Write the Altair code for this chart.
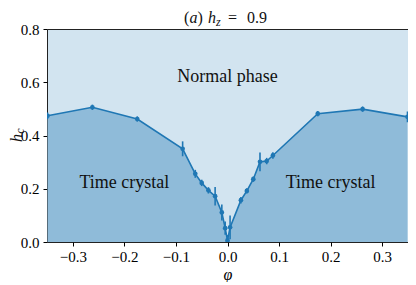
import altair as alt
import pandas as pd

phi = [-0.349, -0.262, -0.175, -0.087, -0.0625, -0.050, -0.037, -0.024, -0.011, -0.0045,
       0.0, 0.005, 0.026, 0.0375, 0.050, 0.063, 0.076, 0.088, 0.175, 0.262, 0.349]
hc = [0.474, 0.506, 0.462, 0.350, 0.256, 0.222, 0.194, 0.172, 0.111, 0.052,
      0.006, 0.055, 0.157, 0.192, 0.236, 0.301, 0.304, 0.325, 0.482, 0.499, 0.470]
err = [0.012, 0.010, 0.010, 0.028, 0.015, 0.012, 0.012, 0.035, 0.030, 0.025,
       0.020, 0.045, 0.012, 0.010, 0.010, 0.035, 0.012, 0.012, 0.010, 0.010, 0.020]

x_ticks = [-0.3, -0.2, -0.1, 0.0, 0.1, 0.2, 0.3]
y_ticks = [0.0, 0.2, 0.4, 0.6, 0.8]

labels = ["Normal phase", "Time crystal", "Time crystal"]
label_x = [0.0, -0.2, 0.2]
label_y = [0.62, 0.221, 0.221]

df = pd.DataFrame({"phi": phi, "hc": hc, "err": err})
df["lo"] = (df["hc"] - df["err"]).clip(lower=0)
df["hi"] = df["hc"] + df["err"]
lab = pd.DataFrame({"t": labels, "x": label_x, "y": label_y})

FONT = "'Liberation Serif', 'DejaVu Serif', serif"
C0 = "#1f77b4"
W, H = 361, 213
ox, oy = 47, 29  # page position of the plot origin

xs = alt.Scale(domain=[-0.35, 0.35], nice=False, zero=False)
ys = alt.Scale(domain=[0, 0.8], nice=False)

xaxis = alt.Axis(values=x_ticks, format=".1f", title="φ", titleFont=FONT,
                 titleFontStyle="italic", titleFontWeight="normal", titleFontSize=16,
                 titleColor="black", titlePadding=2, labelFont=FONT, labelFontSize=15,
                 labelColor="black", tickColor="black", tickSize=4, labelPadding=3,
                 domain=False, grid=False)
yaxis = alt.Axis(values=y_ticks, format=".1f", title=None, labelFont=FONT,
                 labelFontSize=15, labelColor="black", tickColor="black", tickSize=4,
                 labelPadding=4, domain=False, grid=False)

base = alt.Chart(df)

area = base.mark_area(color="#8fbbd9", opacity=1, clip=True).encode(
    x=alt.X("phi:Q", scale=xs, axis=xaxis),
    y=alt.Y("hc:Q", scale=ys, axis=yaxis),
    y2=alt.datum(0),
)
line = base.mark_line(color=C0, strokeWidth=1.6, clip=True).encode(
    x=alt.X("phi:Q", scale=xs), y=alt.Y("hc:Q", scale=ys))
bars = base.mark_rule(color=C0, strokeWidth=1.6, clip=True).encode(
    x=alt.X("phi:Q", scale=xs), y=alt.Y("lo:Q", scale=ys), y2="hi:Q")
pts = base.mark_circle(color=C0, size=22, opacity=1, clip=True).encode(
    x=alt.X("phi:Q", scale=xs), y=alt.Y("hc:Q", scale=ys))

texts = alt.Chart(lab).mark_text(font=FONT, fontSize=18, color="#111").encode(
    x=alt.X("x:Q", scale=xs), y=alt.Y("y:Q", scale=ys), text="t:N")

def txt(s, x, y, size=16, style="normal", angle=0, baseline="alphabetic", align="left"):
    return alt.Chart(pd.DataFrame({"s": [s]})).mark_text(
        font=FONT, fontSize=size, fontStyle=style, color="#111", align=align,
        baseline=baseline, angle=angle).encode(
        x=alt.value(x), y=alt.value(y), text="s:N")

tb = 23
title_parts = [
    txt("(", 184 - ox, tb - oy),
    txt("a", 189.5 - ox, tb - oy, style="italic"),
    txt(")", 197.5 - ox, tb - oy),
    txt("h", 208 - ox, tb - oy, style="italic"),
    txt("z", 216 - ox, tb + 3 - oy, size=12, style="italic"),
    txt("=", 228 - ox, tb - oy),
    txt("0.9", 247 - ox, tb - oy),
]
ylab = [
    txt("h", 17 - ox, 138 - oy, size=16, style="italic", angle=270,
        baseline="middle", align="center"),
    txt("c", 20 - ox, 131 - oy, size=12, style="italic", angle=270,
        baseline="middle", align="center"),
]

chart = alt.layer(area, line, bars, pts, texts, *title_parts, *ylab).properties(
    width=W, height=H,
    autosize=alt.AutoSizeParams(type="none"),
    padding={"left": 39, "top": 21, "right": 0, "bottom": 40},
).configure_view(fill="#d2e4f0", stroke="#222", strokeWidth=1)

chart.save("out.html", embed_options={"renderer": "svg", "actions": False})
